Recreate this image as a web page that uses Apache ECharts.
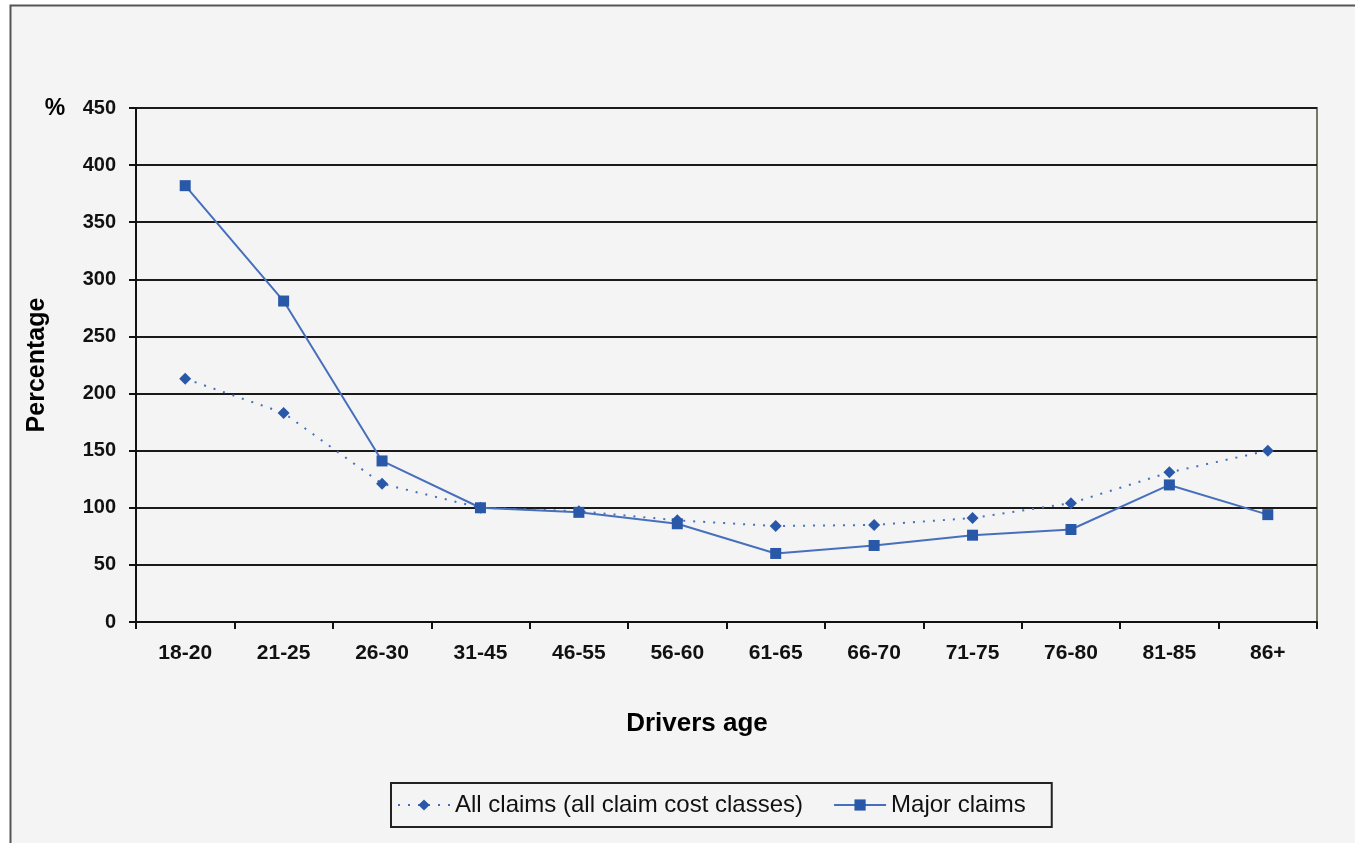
<!DOCTYPE html>
<html>
<head>
<meta charset="utf-8">
<script src="https://cdn.jsdelivr.net/npm/echarts@6/dist/echarts.min.js"></script>
<style>
  html, body { margin: 0; padding: 0; background: #ffffff; }
  #chart { width: 1355px; height: 843px; }
</style>
</head>
<body>
<div id="chart"></div>
<script>
// Relative claim level by driver age group (index, %)
const ageGroups = ['18-20', '21-25', '26-30', '31-45', '46-55', '56-60', '61-65', '66-70', '71-75', '76-80', '81-85', '86+'];
const allClaims = [213, 183, 121, 100, 97, 89, 84, 85, 91, 104, 131, 150];
const majorClaims = [382, 281, 141, 100, 96, 86, 60, 67, 76, 81, 120, 94];
const yTicks = [0, 50, 100, 150, 200, 250, 300, 350, 400, 450];

const seriesNames = ['All claims (all claim cost classes)', 'Major claims'];
const markColor = '#2a58a8';
const lineColor = '#4670bd';
const font = '"Liberation Sans", Arial, sans-serif';

const chart = echarts.init(document.getElementById('chart'), null, { renderer: 'canvas' });

chart.setOption({
  animation: false,
  backgroundColor: '#ffffff',
  graphic: [
    {
      type: 'rect', z: -10, silent: true,
      shape: { x: 10.5, y: 5.5, width: 1360, height: 850 },
      style: { fill: '#f4f4f4', stroke: '#555555', lineWidth: 2 }
    },
    {
      type: 'text', x: 55, y: 109, z: 10,
      style: { text: '%', font: 'bold 23px ' + font, fill: '#000', align: 'center', verticalAlign: 'middle' }
    },
    {
      type: 'text', x: 37, y: 365, rotation: Math.PI / 2, z: 10,
      style: { text: 'Percentage', font: 'bold 25px ' + font, fill: '#000', align: 'center', verticalAlign: 'middle' }
    },
    {
      type: 'text', x: 697, y: 724, z: 10,
      style: { text: 'Drivers age', font: 'bold 26px ' + font, fill: '#000', align: 'center', verticalAlign: 'middle' }
    }
  ],
  grid: { left: 136, right: 38, top: 108, bottom: 221, show: true, borderColor: '#777766', borderWidth: 2, backgroundColor: 'transparent' },
  legend: {
    data: seriesNames,
    left: 391, top: 783,
    padding: [10, 26, 10, 6],
    itemGap: 30,
    itemWidth: 52,
    itemHeight: 14,
    borderColor: '#222222',
    borderWidth: 2,
    textStyle: { fontFamily: font, fontSize: 24, color: '#111' }
  },
  xAxis: {
    type: 'category',
    data: ageGroups,
    boundaryGap: true,
    axisLine: { lineStyle: { color: '#111', width: 2 } },
    axisTick: { show: true, alignWithLabel: false, length: 7, lineStyle: { color: '#111', width: 2 } },
    axisLabel: { margin: 21, fontFamily: font, fontWeight: 'bold', fontSize: 21, color: '#111' },
    splitLine: { show: false }
  },
  yAxis: {
    type: 'value',
    min: yTicks[0],
    max: yTicks[yTicks.length - 1],
    interval: yTicks[1] - yTicks[0],
    axisLine: { show: true, lineStyle: { color: '#111', width: 2 } },
    axisTick: { show: true, length: 7, lineStyle: { color: '#111', width: 2 } },
    axisLabel: { margin: 20, fontFamily: font, fontWeight: 'bold', fontSize: 20, color: '#111' },
    splitLine: { show: true, lineStyle: { color: '#1a1a1a', width: 2 } }
  },
  series: [
    {
      name: seriesNames[0],
      type: 'line',
      data: allClaims,
      symbol: 'diamond',
      symbolSize: 12,
      itemStyle: { color: markColor },
      lineStyle: { color: lineColor, width: 2, type: [2, 8] },
      z: 3
    },
    {
      name: seriesNames[1],
      type: 'line',
      data: majorClaims,
      symbol: 'rect',
      symbolSize: 11,
      itemStyle: { color: markColor },
      lineStyle: { color: lineColor, width: 2 },
      z: 4
    }
  ]
});
</script>
</body>
</html>
